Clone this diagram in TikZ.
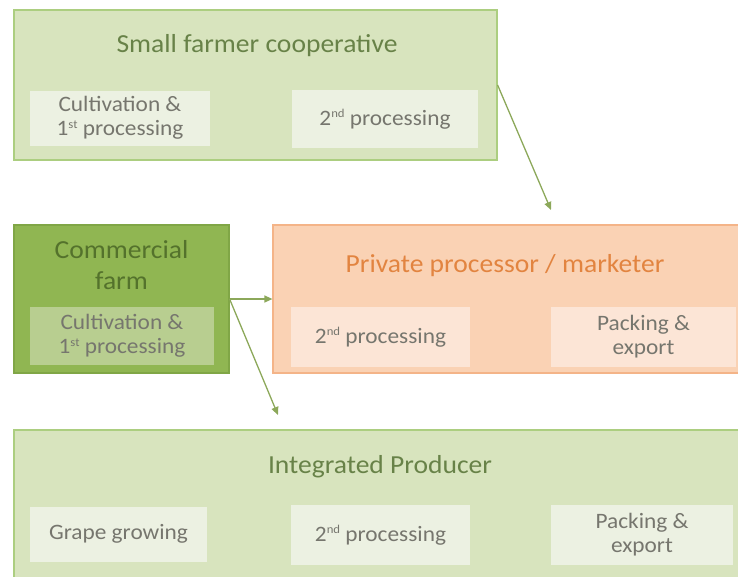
\documentclass[tikz,border=0pt]{standalone}
\usepackage{fontspec}
\setmainfont[FakeStretch=1.06]{Carlito}
\usetikzlibrary{arrows.meta}
\definecolor{gfill}{RGB}{216,228,190}
\definecolor{gline}{RGB}{172,206,128}
\definecolor{gsub}{RGB}{236,241,226}
\definecolor{gtitle}{RGB}{104,130,72}
\definecolor{cfill}{RGB}{144,182,82}
\definecolor{cline}{RGB}{128,166,70}
\definecolor{csub}{RGB}{184,206,144}
\definecolor{ctitle}{RGB}{84,114,44}
\definecolor{ofill}{RGB}{250,210,180}
\definecolor{oline}{RGB}{244,180,136}
\definecolor{osub}{RGB}{252,229,214}
\definecolor{otitle}{RGB}{226,132,64}
\definecolor{subtext}{RGB}{118,118,110}
\definecolor{arr}{RGB}{140,168,90}
\newcommand{\supx}[1]{\raisebox{0.35em}{\fontsize{12}{12}\selectfont #1}}
\tikzset{
  bigbox/.style={draw=#1, line width=1.2pt, inner sep=0pt, anchor=center},
  subbox/.style={fill=#1, draw=none, inner sep=0pt, anchor=center, text=subtext,
     font=\fontsize{22}{24}\selectfont, align=center},
  ttl/.style={font=\fontsize{26}{31}\selectfont, text=#1, align=center},
  flow/.style={draw=arr, line width=1.3pt, -{Triangle[length=8pt,width=7pt]}}
}
\begin{document}
\begin{tikzpicture}[x=1pt,y=-1pt]
\useasboundingbox (0,0) rectangle (738,576);
% Small farmer cooperative
\node[bigbox=gline, fill=gfill, minimum width=483pt, minimum height=150pt] (coop) at (255.5,85) {};
\node[ttl=gtitle] (cooptitle) at (257,46) {Small farmer cooperative};
\node[subbox=gsub, minimum width=180pt, minimum height=55pt] (coopa) at (120,118) {Cultivation \&\\1\supx{st} processing};
\node[subbox=gsub, minimum width=186pt, minimum height=58pt] (coopb) at (385,119) {2\supx{nd} processing};
% Commercial farm
\node[bigbox=cline, fill=cfill, minimum width=215pt, minimum height=148pt] (farm) at (121.5,299) {};
\node[ttl=ctitle] (farmtitle) at (121.5,265) {Commercial\\farm};
\node[subbox=csub, minimum width=184pt, minimum height=58pt] (farma) at (122,336) {Cultivation \&\\1\supx{st} processing};
% Private processor
\node[bigbox=oline, fill=ofill, minimum width=470pt, minimum height=148pt] (proc) at (508,299) {};
\node[ttl=otitle] (proctitle) at (505,266) {Private processor / marketer};
\node[subbox=osub, minimum width=179pt, minimum height=60pt] (proca) at (380.5,337) {2\supx{nd} processing};
\node[subbox=osub, minimum width=185pt, minimum height=60pt] (procb) at (643.5,337) {Packing \&\\export};
% Integrated producer
\node[bigbox=gline, fill=gfill, minimum width=730pt, minimum height=150pt] (integ) at (379,505) {};
\node[ttl=gtitle] (integtitle) at (380,467) {Integrated Producer};
\node[subbox=gsub, minimum width=177pt, minimum height=55pt] (intega) at (118.5,534) {Grape growing};
\node[subbox=gsub, minimum width=179pt, minimum height=60pt] (integb) at (380.5,535) {2\supx{nd} processing};
\node[subbox=gsub, minimum width=182pt, minimum height=60pt] (integc) at (642,535) {Packing \&\\export};
% connectors
\coordinate (coopend) at (551,210);
\coordinate (integend) at (278,415);
\draw[flow] (coop.east) -- (coopend);
\draw[flow] (farm.east) -- (proc.west);
\draw[flow] (farm.east) -- (integend);
\end{tikzpicture}
\end{document}
